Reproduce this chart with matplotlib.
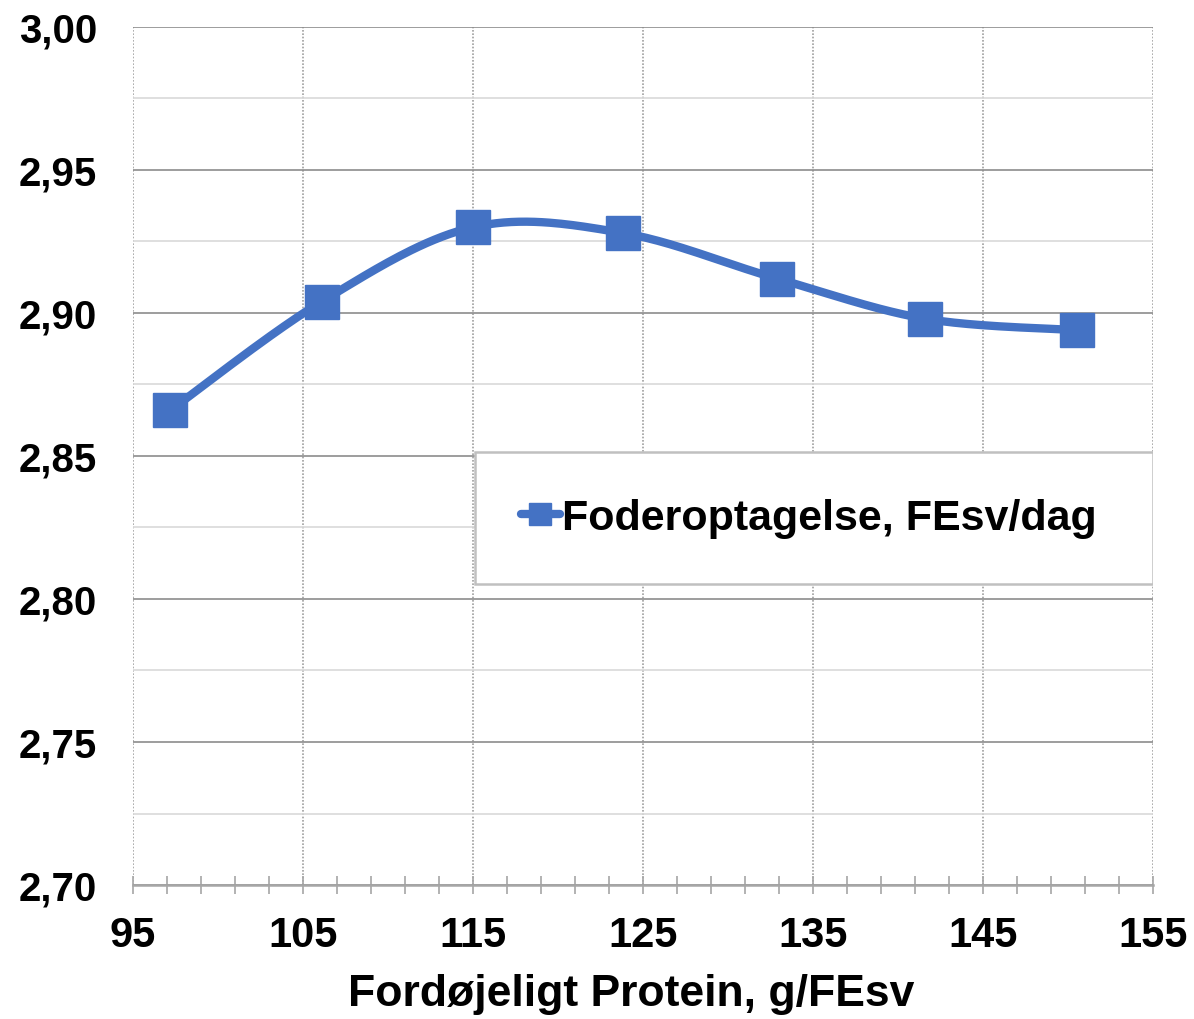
import numpy as np
import matplotlib.pyplot as plt
from matplotlib.patches import Rectangle
from matplotlib.ticker import MultipleLocator, FuncFormatter

plt.rcParams['font.family'] = ['Liberation Sans', 'DejaVu Sans']
plt.rcParams['font.weight'] = 'bold'

# foderoptagelse ved stigende protein
protein = [97.2, 106.1, 115.0, 123.8, 132.9, 141.6, 150.5]
foder = [2.866, 2.904, 2.930, 2.928, 2.912, 2.898, 2.894]
serie_navn = 'Foderoptagelse, FEsv/dag'
x_navn = 'Fordøjeligt Protein, g/FEsv'
blaa = '#4472C4'


def glat_kurve(xs, ys, n=40):
    # bezier-udjaevning som i regneark (kontrolpunkter = nabo-differens / 6)
    P = np.column_stack([xs, ys])
    P = np.vstack([P[0], P, P[-1]])
    ud = []
    t = np.linspace(0, 1, n)[:, None]
    for i in range(1, len(P) - 2):
        p0, p3 = P[i], P[i + 1]
        c1 = p0 + (P[i + 1] - P[i - 1]) / 6
        c2 = p3 - (P[i + 2] - P[i]) / 6
        b = ((1 - t) ** 3) * p0 + 3 * ((1 - t) ** 2) * t * c1 + 3 * (1 - t) * t ** 2 * c2 + t ** 3 * p3
        ud.append(b)
    ud = np.vstack(ud)
    return ud[:, 0], ud[:, 1]


fig = plt.figure(figsize=(11.94, 10.20), dpi=100)
ax = fig.add_axes([133 / 1194, 1 - 886 / 1020, 1020 / 1194, 858 / 1020])

gx, gy = glat_kurve(protein, foder)
ax.plot(gx, gy, color=blaa, lw=6, solid_capstyle='round', zorder=4)
ax.plot(protein, foder, ls='none', marker='s', ms=25, color=blaa, zorder=5)

ax.set_xlim(95, 155)
ax.set_ylim(2.70, 3.00)
ax.xaxis.set_major_locator(MultipleLocator(10, offset=5))
ax.xaxis.set_minor_locator(MultipleLocator(2, offset=1))
ax.yaxis.set_major_locator(MultipleLocator(0.05))
ax.yaxis.set_minor_locator(MultipleLocator(0.025))
ax.yaxis.set_major_formatter(FuncFormatter(lambda v, p: f'{v:.2f}'.replace('.', ',')))

ax.set_axisbelow(True)
ax.grid(axis='y', which='major', color='#8c8c8c', lw=1.2)
ax.grid(axis='y', which='minor', color='#d9d9d9', lw=1.2)
ax.grid(axis='x', which='major', color='#a0a0a0', lw=1.2, ls=(0, (1, 1)))

for s in ['left', 'right', 'top']:
    ax.spines[s].set_visible(False)
ax.spines['bottom'].set_color('#a6a6a6')
ax.spines['bottom'].set_linewidth(1.8)

ax.tick_params(axis='x', which='both', direction='inout', length=13, width=1.2,
               color='#a6a6a6', labelsize=30, pad=15)
ax.tick_params(axis='y', which='both', length=0, labelsize=29, pad=26)
ax.set_xlabel(x_navn, fontsize=32, fontweight='bold', labelpad=13)
ax.xaxis.label.set_x(0.488)

# hvid boks bag signaturforklaringen
boks = (0.335, 0.351, 0.665, 0.154)
ax.add_patch(Rectangle(boks[:2], boks[2], boks[3], transform=ax.transAxes,
                       facecolor='white', edgecolor='#c0c0c0', lw=1.8, zorder=3))
h, = ax.plot([], [], color=blaa, lw=6, marker='s', ms=16, solid_capstyle='round')
ax.legend([h], [serie_navn], loc='center', frameon=False,
          bbox_to_anchor=(boks[0] + boks[2] / 2 - 0.005, boks[1] + boks[3] / 2),
          handlelength=0.9, handletextpad=0.05, prop={'weight': 'bold', 'size': 31})

fig.savefig('out.png', dpi=100)
